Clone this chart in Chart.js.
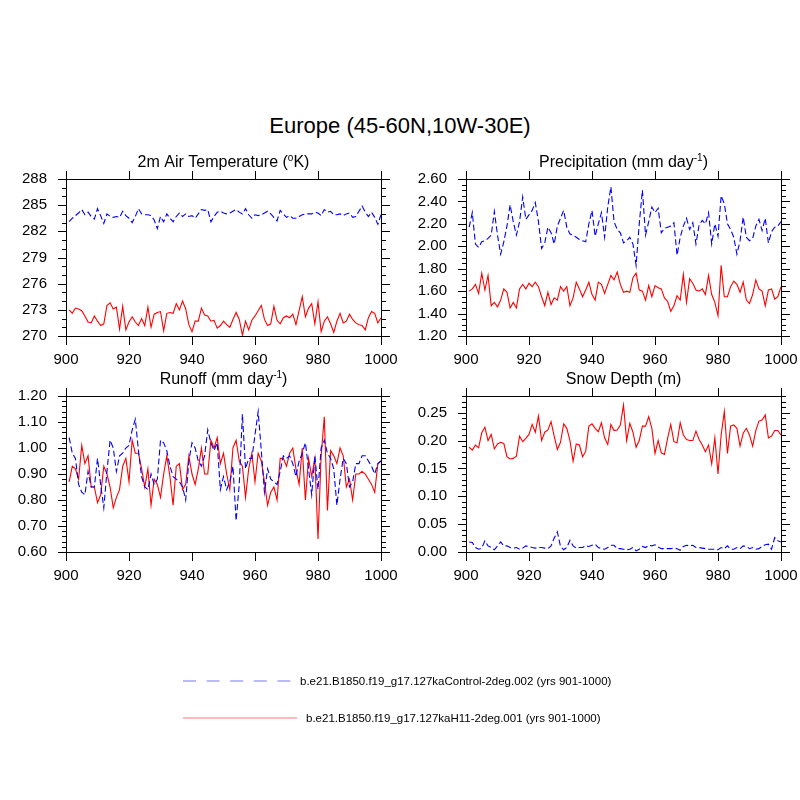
<!DOCTYPE html>
<html>
<head>
<meta charset="utf-8">
<script src="https://cdn.jsdelivr.net/npm/chart.js@4.4.1/dist/chart.umd.min.js"></script>
<style>
  body { margin: 0; background: #fff; }
  #page { position: relative; width: 800px; height: 800px; overflow: hidden; font-family: "Liberation Sans", Arial, sans-serif; }
  canvas { position: absolute; }
  #mainTitle { position: absolute; left: 0; top: 113px; width: 800px; height: 25px; line-height: 25px; text-align: center; font-size: 22px; color: #000; }
  .legText { position: absolute; font-size: 11.5px; line-height: 14px; color: #000; white-space: nowrap; }
  #legLines { position: absolute; left: 0; top: 0; }
</style>
</head>
<body>
<div id="page">
  <div id="mainTitle">Europe (45-60N,10W-30E)</div>
  <canvas id="tempChart"></canvas>
  <canvas id="precChart"></canvas>
  <canvas id="runChart"></canvas>
  <canvas id="snowChart"></canvas>
  <svg id="legLines" width="800" height="800">
    <line x1="183" y1="681" x2="292" y2="681" stroke="#a4a4ff" stroke-width="1.6" stroke-dasharray="13 10.6"></line>
    <line x1="183" y1="718" x2="297" y2="718" stroke="#ffa4a4" stroke-width="1.6"></line>
  </svg>
  <div class="legText" id="legCtl" style="left:300px; top:674px;"></div>
  <div class="legText" id="legH11" style="left:306px; top:711px;"></div>
</div>
<script>
'use strict';

let ctlName = 'b.e21.B1850.f19_g17.127kaControl-2deg.002 (yrs 901-1000)';
let h11Name = 'b.e21.B1850.f19_g17.127kaH11-2deg.001 (yrs 901-1000)';

// model years 901..1000
let years = [];
for (let yr = 901; yr <= 1000; yr++) {
    years.push(yr);
}

let xTicks = [900, 920, 940, 960, 980, 1000];

let tempTicks = [270, 273, 276, 279, 282, 285, 288];
let precTicks = [1.2, 1.4, 1.6, 1.8, 2.0, 2.2, 2.4, 2.6];
let runTicks = [0.6, 0.7, 0.8, 0.9, 1.0, 1.1, 1.2];
let snowTicks = [0, 0.05, 0.10, 0.15, 0.20, 0.25];
let snowMax = 0.28;

// 2m air temperature (K)
let tempCtl = [283.1, 283.5, 283.8, 284.1, 284.5, 283.9, 284.2, 283.7, 283.4, 284.6,
    283.8, 282.9, 284.0, 283.7, 283.6, 283.7, 283.6, 284.3, 283.8, 283.5,
    283.0, 283.7, 284.6, 284.0, 283.9, 283.9, 283.8, 283.3, 282.3, 283.7,
    283.1, 284.0, 283.5, 283.1, 283.7, 284.1, 283.7, 284.0, 283.7, 283.8,
    283.5, 284.0, 284.5, 284.4, 284.5, 283.1, 283.7, 284.2, 284.3, 284.1,
    284.0, 284.1, 284.3, 284.5, 284.2, 284.0, 284.6, 283.9, 283.5, 283.9,
    283.8, 283.9, 284.1, 284.3, 284.0, 283.6, 283.2, 284.4, 284.0, 283.6,
    283.8, 283.5, 283.5, 283.7, 283.9, 284.0, 284.0, 284.0, 284.2, 284.1,
    283.8, 284.5, 284.2, 284.3, 283.9, 283.9, 284.0, 283.8, 284.0, 284.1,
    283.6, 283.7, 284.3, 284.9, 284.2, 283.7, 284.2, 283.6, 282.8, 283.9];
let tempH11 = [273.0, 272.6, 273.2, 273.1, 272.9, 272.3, 271.6, 271.5, 272.3, 271.7,
    271.2, 271.4, 273.5, 273.8, 273.1, 273.3, 270.8, 273.4, 270.7, 271.6,
    272.2, 271.6, 271.2, 272.0, 271.2, 273.3, 271.0, 272.5, 272.7, 272.8,
    270.6, 272.6, 272.7, 272.6, 273.7, 273.0, 274.0, 273.1, 271.3, 270.5,
    271.7, 271.7, 273.2, 272.4, 272.3, 271.7, 271.8, 270.9, 271.2, 271.7,
    271.3, 271.0, 271.9, 272.7, 271.9, 270.1, 271.7, 270.7, 271.8, 272.3,
    272.9, 273.5, 271.9, 271.2, 271.4, 273.4, 271.8, 271.4, 272.1, 272.3,
    272.1, 272.5, 271.3, 272.9, 274.5, 272.2, 273.2, 273.7, 271.4, 273.9,
    270.5, 271.7, 272.2, 271.4, 270.4, 271.7, 272.6, 271.5, 271.7, 272.5,
    271.9, 271.5, 271.3, 271.2, 270.7, 272.1, 272.8, 272.6, 271.5, 272.1];

// precipitation (mm/day)
let precCtl = [2.17, 2.30, 2.02, 1.99, 2.04, 2.05, 2.07, 2.10, 2.31, 2.10,
    1.93, 2.04, 2.18, 2.37, 2.22, 2.10, 2.22, 2.44, 2.24, 2.28,
    2.32, 2.39, 2.22, 1.98, 2.03, 2.17, 2.12, 2.02, 2.18, 2.25,
    2.32, 2.17, 2.11, 2.10, 2.08, 2.06, 2.05, 2.04, 2.20, 2.32,
    2.09, 2.20, 2.30, 2.08, 2.35, 2.53, 2.22, 2.15, 2.12, 2.03,
    2.05, 2.08, 2.02, 1.83, 2.20, 2.50, 2.10, 2.22, 2.35, 2.30,
    2.34, 2.12, 2.16, 2.17, 2.18, 2.21, 1.92, 2.08, 2.18, 2.25,
    2.15, 2.21, 2.02, 2.19, 2.23, 2.20, 2.30, 2.02, 2.20, 2.09,
    2.45, 2.38, 2.20, 2.15, 2.08, 1.93, 2.05, 2.26, 2.08, 2.05,
    2.07, 2.18, 2.24, 2.14, 2.25, 2.03, 2.13, 2.17, 2.18, 2.22];
let precH11 = [1.60, 1.62, 1.66, 1.58, 1.76, 1.61, 1.74, 1.47, 1.50, 1.46,
    1.52, 1.62, 1.59, 1.45, 1.50, 1.45, 1.62, 1.66, 1.62, 1.67,
    1.64, 1.68, 1.64, 1.55, 1.47, 1.59, 1.48, 1.54, 1.52, 1.64,
    1.60, 1.64, 1.47, 1.54, 1.68, 1.62, 1.55, 1.61, 1.68, 1.57,
    1.52, 1.68, 1.66, 1.58, 1.66, 1.74, 1.70, 1.77, 1.66, 1.59,
    1.60, 1.59, 1.72, 1.76, 1.61, 1.60, 1.52, 1.65, 1.55, 1.65,
    1.63, 1.62, 1.54, 1.51, 1.42, 1.47, 1.56, 1.52, 1.75, 1.50,
    1.71, 1.67, 1.61, 1.60, 1.62, 1.57, 1.74, 1.57, 1.50, 1.38,
    1.83, 1.55, 1.55, 1.64, 1.69, 1.66, 1.59, 1.68, 1.52, 1.49,
    1.57, 1.70, 1.62, 1.60, 1.47, 1.61, 1.62, 1.53, 1.55, 1.64];

// runoff (mm/day)
let runCtl = [1.04, 0.98, 0.96, 0.86, 0.83, 0.82, 0.91, 0.85, 0.85, 0.96,
    0.86, 0.77, 0.91, 1.03, 1.00, 0.91, 0.97, 0.98, 1.00, 1.01,
    1.07, 1.11, 0.99, 0.89, 0.85, 0.84, 0.90, 0.86, 0.88, 1.03,
    1.02, 0.99, 0.93, 0.89, 0.88, 0.87, 0.85, 0.80, 0.95, 1.02,
    1.00, 0.95, 0.93, 0.97, 1.07, 1.02, 0.99, 1.02, 0.84, 0.89,
    0.84, 0.87, 0.93, 0.72, 0.86, 1.13, 0.92, 0.96, 0.96, 1.05,
    1.14, 0.99, 0.83, 0.92, 0.88, 0.87, 0.86, 0.91, 0.97, 0.96,
    0.97, 0.94, 0.89, 0.95, 0.98, 1.02, 0.92, 0.82, 0.97, 0.84,
    1.00, 1.03, 0.98, 0.96, 0.92, 0.78, 0.88, 0.96, 0.94, 0.85,
    0.87, 0.94, 0.94, 0.97, 0.97, 0.95, 0.93, 0.90, 0.94, 0.95];
let runH11 = [0.87, 0.93, 0.92, 0.88, 1.01, 0.94, 0.97, 0.85, 0.85, 0.79,
    0.82, 0.93, 0.90, 0.85, 0.77, 0.81, 0.84, 0.93, 0.96, 0.87,
    1.03, 0.98, 0.98, 0.92, 0.85, 0.92, 0.78, 0.88, 0.86, 0.81,
    0.90, 0.97, 0.89, 0.78, 0.93, 0.94, 0.84, 0.86, 0.97, 0.90,
    0.86, 0.92, 1.00, 0.90, 0.90, 1.03, 1.00, 1.04, 0.94, 0.98,
    0.90, 0.84, 1.00, 1.03, 0.95, 0.93, 0.81, 0.92, 0.98, 0.87,
    0.98, 0.95, 0.87, 0.78, 0.83, 0.85, 0.80, 0.96, 0.96, 0.93,
    0.98, 1.00, 0.92, 0.86, 1.00, 0.80, 0.96, 0.89, 0.96, 0.65,
    0.97, 1.12, 0.76, 0.99, 0.97, 0.94, 1.00, 0.97, 0.85, 0.88,
    0.80, 0.90, 0.90, 0.91, 0.90, 0.88, 0.86, 0.83, 0.94, 0.95];

// snow depth (m)
let snowCtl = [0.018, 0.017, 0.008, 0.005, 0.007, 0.020, 0.011, 0.008, 0.004, 0.011,
    0.018, 0.011, 0.011, 0.008, 0.007, 0.008, 0.005, 0.007, 0.011, 0.010,
    0.008, 0.007, 0.008, 0.008, 0.007, 0.006, 0.011, 0.025, 0.036, 0.010,
    0.004, 0.008, 0.021, 0.011, 0.007, 0.008, 0.008, 0.011, 0.010, 0.012,
    0.014, 0.008, 0.006, 0.005, 0.008, 0.012, 0.012, 0.006, 0.006, 0.005,
    0.004, 0.005, 0.008, 0.002, 0.005, 0.010, 0.008, 0.012, 0.011, 0.013,
    0.009, 0.006, 0.006, 0.006, 0.006, 0.007, 0.006, 0.003, 0.010, 0.012,
    0.011, 0.012, 0.008, 0.008, 0.007, 0.006, 0.005, 0.005, 0.005, 0.004,
    0.008, 0.006, 0.011, 0.005, 0.005, 0.008, 0.006, 0.011, 0.010, 0.006,
    0.008, 0.005, 0.006, 0.010, 0.013, 0.014, 0.005, 0.026, 0.020, 0.018];
let snowH11 = [0.188, 0.183, 0.192, 0.187, 0.214, 0.224, 0.200, 0.211, 0.185, 0.194,
    0.197, 0.195, 0.171, 0.167, 0.168, 0.172, 0.208, 0.198, 0.204, 0.211,
    0.229, 0.215, 0.244, 0.200, 0.215, 0.219, 0.234, 0.208, 0.184, 0.197,
    0.230, 0.222, 0.200, 0.163, 0.194, 0.192, 0.171, 0.181, 0.226, 0.230,
    0.222, 0.216, 0.232, 0.205, 0.193, 0.229, 0.218, 0.219, 0.228, 0.264,
    0.200, 0.231, 0.215, 0.188, 0.200, 0.226, 0.226, 0.243, 0.222, 0.177,
    0.200, 0.178, 0.175, 0.204, 0.229, 0.198, 0.196, 0.232, 0.210, 0.202,
    0.200, 0.200, 0.217, 0.202, 0.192, 0.180, 0.192, 0.158, 0.205, 0.140,
    0.210, 0.252, 0.177, 0.226, 0.228, 0.222, 0.190, 0.213, 0.222, 0.210,
    0.190, 0.218, 0.235, 0.237, 0.246, 0.205, 0.208, 0.218, 0.218, 0.210];

document.getElementById('legCtl').textContent = ctlName;
document.getElementById('legH11').textContent = h11Name;

Chart.defaults.font.family = '"Liberation Sans", Arial, Helvetica, sans-serif';
Chart.defaults.color = '#000';

const AXIS_W = 66;   // room left of plot for y labels
const TOP_PAD = 40;  // room above plot for panel title
const RIGHT_PAD = 40;
const XAXIS_H = 45;

// frame + outward tick marks on all four sides (NCL look)
const ncFrame = {
    id: 'ncFrame',
    afterDatasetsDraw(chart, args, opts) {
        const ctx = chart.ctx;
        const a = chart.chartArea;
        const xs = chart.scales.x;
        const ys = chart.scales.y;
        ctx.save();
        ctx.strokeStyle = '#000';
        ctx.lineWidth = 1;
        ctx.strokeRect(a.left + 0.5, a.top + 0.5, a.right - a.left, a.bottom - a.top);
        ctx.beginPath();
        // minor y ticks
        let n = Math.round((ys.max - ys.min) / opts.minor);
        for (let k = 0; k <= n; k++) {
            let py = Math.round(ys.getPixelForValue(ys.min + k * opts.minor)) + 0.5;
            ctx.moveTo(a.left, py); ctx.lineTo(a.left - 4, py);
            ctx.moveTo(a.right + 1, py); ctx.lineTo(a.right + 5, py);
        }
        // major y ticks
        opts.yTicks.forEach(function (v) {
            let py = Math.round(ys.getPixelForValue(v)) + 0.5;
            ctx.moveTo(a.left, py); ctx.lineTo(a.left - 8, py);
            ctx.moveTo(a.right + 1, py); ctx.lineTo(a.right + 9, py);
        });
        // major x ticks
        xTicks.forEach(function (v) {
            let px = Math.round(xs.getPixelForValue(v)) + 0.5;
            ctx.moveTo(px, a.top); ctx.lineTo(px, a.top - 8);
            ctx.moveTo(px, a.bottom + 1); ctx.lineTo(px, a.bottom + 9);
        });
        ctx.stroke();
        ctx.restore();
    }
};

// panel title with ^{...} superscripts, centred over the plot
const panelTitle = {
    id: 'panelTitle',
    afterDraw(chart, args, opts) {
        const ctx = chart.ctx;
        const a = chart.chartArea;
        const fam = Chart.defaults.font.family;
        let parts = opts.text.split(/(\^\{[^}]*\})/).filter(Boolean).map(function (s) {
            return s.indexOf('^{') === 0 ? {t: s.slice(2, -1), sup: true} : {t: s, sup: false};
        });
        ctx.save();
        let total = 0;
        parts.forEach(function (p) {
            ctx.font = (p.sup ? '10px ' : '16px ') + fam;
            p.w = ctx.measureText(p.t).width;
            total += p.w;
        });
        let x = (a.left + a.right) / 2 - total / 2;
        let base = a.top - 12;
        ctx.fillStyle = '#000';
        ctx.textAlign = 'left';
        ctx.textBaseline = 'alphabetic';
        parts.forEach(function (p) {
            ctx.font = (p.sup ? '10px ' : '16px ') + fam;
            ctx.fillText(p.t, x, p.sup ? base - 6 : base);
            x += p.w;
        });
        ctx.restore();
    }
};

function makePanel(id, box, title, yTicks, yMax, yMinor, digits, ctlData, h11Data) {
    let cv = document.getElementById(id);
    cv.width = box[2] - box[0] + AXIS_W + RIGHT_PAD;
    cv.height = box[3] - box[1] + TOP_PAD + XAXIS_H;
    cv.style.left = (box[0] - AXIS_W) + 'px';
    cv.style.top = (box[1] - TOP_PAD) + 'px';

    let ctlPts = years.map(function (yr, i) { return {x: yr, y: ctlData[i]}; });
    let h11Pts = years.map(function (yr, i) { return {x: yr, y: h11Data[i]}; });

    return new Chart(cv, {
        type: 'line',
        data: {
            datasets: [{
                label: ctlName,
                data: ctlPts,
                borderColor: '#0000ff',
                borderWidth: 1.1,
                borderDash: [6, 3],
                pointRadius: 0,
                fill: false,
                tension: 0
            }, {
                label: h11Name,
                data: h11Pts,
                borderColor: '#ff0000',
                borderWidth: 1.1,
                pointRadius: 0,
                fill: false,
                tension: 0
            }]
        },
        options: {
            responsive: false,
            animation: false,
            devicePixelRatio: 1,
            layout: {
                autoPadding: false,
                padding: {left: 0, top: TOP_PAD, right: RIGHT_PAD, bottom: 0}
            },
            plugins: {
                legend: {display: false},
                tooltip: {enabled: false},
                panelTitle: {text: title},
                ncFrame: {yTicks: yTicks, minor: yMinor}
            },
            scales: {
                x: {
                    type: 'linear',
                    min: 900,
                    max: 1000,
                    afterBuildTicks: function (s) { s.ticks = xTicks.map(function (v) { return {value: v}; }); },
                    afterFit: function (s) { s.height = XAXIS_H; },
                    grid: {display: false, drawTicks: false},
                    border: {display: false},
                    ticks: {
                        padding: 15,
                        autoSkip: false,
                        maxRotation: 0,
                        font: {size: 15},
                        callback: function (v) { return String(v); }
                    }
                },
                y: {
                    type: 'linear',
                    min: yTicks[0],
                    max: yMax,
                    afterBuildTicks: function (s) { s.ticks = yTicks.map(function (v) { return {value: v}; }); },
                    afterFit: function (s) { s.width = AXIS_W; },
                    grid: {display: false, drawTicks: false},
                    border: {display: false},
                    ticks: {
                        padding: 19,
                        autoSkip: false,
                        font: {size: 15},
                        callback: function (v) { return Number(v).toFixed(digits); }
                    }
                }
            }
        },
        plugins: [ncFrame, panelTitle]
    });
}

makePanel('tempChart', [66, 179, 381, 336], '2m Air Temperature (^{o}K)', tempTicks, 288, 1, 0, tempCtl, tempH11);
makePanel('precChart', [466, 179, 781, 336], 'Precipitation (mm day^{-1})', precTicks, 2.6, 0.05, 2, precCtl, precH11);
makePanel('runChart', [66, 396, 381, 552], 'Runoff (mm day^{-1})', runTicks, 1.2, 0.02, 2, runCtl, runH11);
makePanel('snowChart', [466, 396, 781, 552], 'Snow Depth (m)', snowTicks, snowMax, 0.01, 2, snowCtl, snowH11);
</script>
</body>
</html>
